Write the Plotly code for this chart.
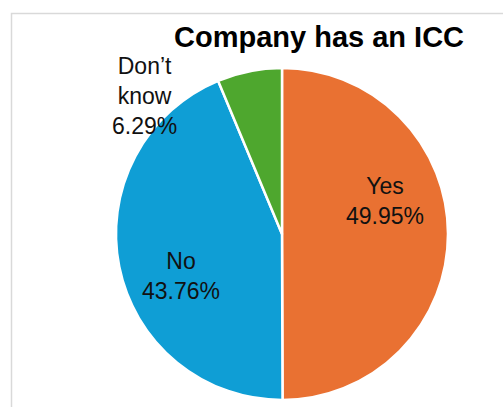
import plotly.graph_objects as go

# Survey answers and their shares (%)
labels = ["Yes", "No", "Don\u2019t know"]
shares = [49.95, 43.76, 6.29]
colors = ["#E97132", "#0F9ED5", "#4EA72E"]

# Label placement (paper coords) and the line breaks used for each label
label_pos = [(385 / 503, 1 - 201 / 407), (181 / 503, 1 - 276 / 407), (144 / 503, 1 - 96 / 407)]
label_names = ["Yes", "No", "Don\u2019t<br>know"]

W, H = 503, 407
cx, cy, r = 282, 234, 166

fig = go.Figure(
    go.Pie(
        labels=labels,
        values=shares,
        marker=dict(colors=colors, line=dict(color="white", width=2.5)),
        sort=False,
        direction="clockwise",
        rotation=0,
        textinfo="none",
        hoverinfo="label+value",
        showlegend=False,
        domain=dict(x=[(cx - r) / W, (cx + r) / W], y=[1 - (cy + r) / H, 1 - (cy - r) / H]),
    )
)

annotations = [
    dict(
        text="<b>Company has an ICC</b>",
        x=319 / W, y=1 - 37 / H, xref="paper", yref="paper",
        xanchor="center", yanchor="middle", showarrow=False,
        font=dict(family="Liberation Sans, Arial, sans-serif", size=29, color="#000000"),
    )
]
for name, val, (x, y) in zip(label_names, shares, label_pos):
    annotations.append(
        dict(
            text=f"{name}<br>{val:.2f}%",
            x=x, y=y, xref="paper", yref="paper",
            xanchor="center", yanchor="middle", align="center", showarrow=False,
            font=dict(family="Liberation Sans, Arial, sans-serif", size=23, color="#111111"),
        )
    )

fig.update_layout(
    width=W, height=H,
    margin=dict(l=0, r=0, t=0, b=0),
    paper_bgcolor="white",
    plot_bgcolor="white",
    annotations=annotations,
    shapes=[
        dict(
            type="rect", xref="paper", yref="paper",
            x0=11.5 / W, x1=1.2, y0=-0.2, y1=1 - 13.5 / H,
            line=dict(color="#D9D9D9", width=1.5), fillcolor="rgba(0,0,0,0)",
            layer="below",
        )
    ],
)

fig.write_html("out.html")
